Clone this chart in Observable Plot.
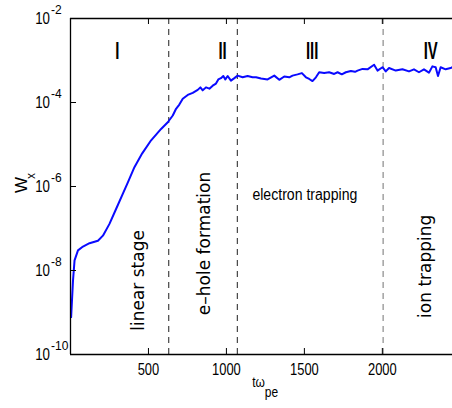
<!DOCTYPE html>
<html><head><meta charset="utf-8">
<script src="https://cdn.jsdelivr.net/npm/d3@7"></script>
<script src="https://cdn.jsdelivr.net/npm/@observablehq/plot@0.6"></script>
<style>body{margin:0;background:#fff}</style>
</head><body><div id="chart"></div>
<script>
// time (t·ω_pe) and log10 of W_x
const time = [
  4,16,26,48,80,122,176,208,250,293,
  336,368,410,460,517,581,624,656,677,698,
  720,752,784,816,833,848,869,891,912,933,
  948,965,980,993,1008,1029,1051,1072,1104,1136,
  1168,1190,1222,1264,1307,1339,1371,1403,1424,1456,
  1484,1510,1531,1552,1574,1595,1627,1659,1691,1713,
  1740,1766,1798,1825,1841,1873,1905,1947,1969,2001,
  2022,2043,2086,2129,2171,2203,2235,2267,2299,2321,
  2342,2357,2374,2406,2438,2449];
const wxExp = [
  -9.11,-8.24,-7.76,-7.52,-7.43,-7.35,-7.29,-7.17,-6.89,-6.53,
  -6.17,-5.90,-5.54,-5.21,-4.90,-4.63,-4.47,-4.31,-4.15,-4.05,
  -3.91,-3.82,-3.77,-3.70,-3.64,-3.71,-3.64,-3.67,-3.60,-3.55,
  -3.45,-3.42,-3.37,-3.45,-3.37,-3.48,-3.42,-3.36,-3.40,-3.37,
  -3.40,-3.40,-3.43,-3.45,-3.36,-3.46,-3.38,-3.40,-3.36,-3.33,
  -3.30,-3.40,-3.44,-3.49,-3.40,-3.28,-3.30,-3.28,-3.32,-3.28,
  -3.33,-3.28,-3.25,-3.27,-3.24,-3.20,-3.21,-3.10,-3.24,-3.16,
  -3.26,-3.18,-3.24,-3.21,-3.26,-3.21,-3.28,-3.21,-3.29,-3.14,
  -3.16,-3.37,-3.16,-3.21,-3.18,-3.16];

const xTicks = [500, 1000, 1500, 2000];
const xTickLabels = ["500", "1000", "1500", "2000"];
const yTicks = [1e-2, 1e-4, 1e-6, 1e-8, 1e-10];
const yTickExp = ["-2", "-4", "-6", "-8", "-10"];
const innerYTicks = [1e-4, 1e-6, 1e-8];

const phaseBounds = [630, 1070, 2005];
const phaseColors = ["#333333", "#333333", "#808080"];

const romanLabels = ["I", "II", "III", "IV"];
const romanT = [300, 975, 1550, 2310];
const romanY = 1.7e-3;

const stageLabels = ["linear stage", "e\u2013hole formation", "ion trapping"];
const stageT = [434, 857, 2278];
const stageY = [5.8e-9, 4.4e-8, 1.26e-8];
const horizLabel = "electron trapping";
const horizT = 1503;
const horizY = 6.2e-7;

const data = time.map((t, i) => ({t, w: Math.pow(10, wxExp[i])}));
const yTickData = yTicks.map((v, i) => ({v, e: yTickExp[i]}));
const xTickData = xTicks.map((v, i) => ({v, s: xTickLabels[i]}));

const sans = "'Liberation Sans', Arial, Helvetica, sans-serif";
const wide = "'DejaVu Sans', 'Liberation Sans', sans-serif";

const chart = Plot.plot({
  width: 452,
  height: 408,
  marginLeft: 70,
  marginRight: 0,
  marginTop: 18,
  marginBottom: 54,
  style: {fontFamily: sans, background: "#fff", color: "#000"},
  x: {domain: [0, 2450], axis: null},
  y: {type: "log", domain: [1e-10, 1e-2], axis: null},
  marks: [
    Plot.ruleX(phaseBounds, {x: d => d, stroke: (d, i) => phaseColors[i], strokeDasharray: "6,5", strokeWidth: 1.1}),
    Plot.line(data, {x: "t", y: "w", stroke: "#0a0aff", strokeWidth: 2}),
    Plot.ruleX([0], {stroke: "#000", strokeWidth: 1.3}),
    Plot.ruleY([1e-2, 1e-10], {stroke: "#000", strokeWidth: 1.3}),
    Plot.tickY(innerYTicks, {y: d => d, insetRight: 376, stroke: "#000"}),
    Plot.tickX(xTicks, {x: d => d, insetTop: 330, stroke: "#000"}),
    Plot.tickX(xTicks, {x: d => d, insetBottom: 330, stroke: "#000"}),
    // x tick labels
    Plot.text(xTickData, {x: "v", y: () => 1e-10, text: "s", dy: 15, fontSize: 17, ariaLabel: () => "sq76"}),
    // y tick labels 10^n
    Plot.text(yTickData, {x: 0, y: "v", text: () => "10", textAnchor: "end", dx: -20.5, fontSize: 17, ariaLabel: () => "sq78"}),
    Plot.text(yTickData, {x: 0, y: "v", text: "e", textAnchor: "start", dx: -19.5, dy: -8, fontSize: 12}),
    // axis labels
    Plot.text(["W"], {frameAnchor: "left", dx: -49, dy: 6.5, rotate: -90, fontSize: 17, text: d => d}),
    Plot.text(["x"], {frameAnchor: "left", dx: -39.5, dy: -7.5, rotate: -90, fontSize: 12, text: d => d}),
    Plot.text(["t\u03c9"], {frameAnchor: "bottom", dx: -3, dy: 32, fontSize: 15, text: d => d, ariaLabel: () => "sq80"}),
    Plot.text(["pe"], {frameAnchor: "bottom", dx: 10, dy: 42, fontSize: 15, text: d => d, ariaLabel: () => "sq80"}),
    // phases
    Plot.text(romanLabels, {x: (d, i) => romanT[i], y: () => romanY, text: d => d, fontSize: 24, fontWeight: "bold", ariaLabel: () => "sq62"}),
    Plot.text(stageLabels, {x: (d, i) => stageT[i], y: (d, i) => stageY[i], text: d => d, rotate: -90, fontSize: 17, fontFamily: wide}),
    Plot.text([horizLabel], {x: horizT, y: horizY, text: d => d, fontSize: 16, ariaLabel: () => "sq88"})
  ]
});
document.getElementById("chart").append(chart);

// narrow the horizontal glyphs, as in the horizontally squeezed reference
const factors = {sq76: 0.76, sq78: 0.78, sq80: 0.8, sq62: 0.62, sq88: 0.88};
d3.select(chart).selectAll("text[aria-label]").each(function () {
  const f = factors[this.getAttribute("aria-label")];
  if (!f) return;
  const w = this.getComputedTextLength();
  this.setAttribute("textLength", w * f);
  this.setAttribute("lengthAdjust", "spacingAndGlyphs");
  this.removeAttribute("aria-label");
});
</script>
</body></html>
